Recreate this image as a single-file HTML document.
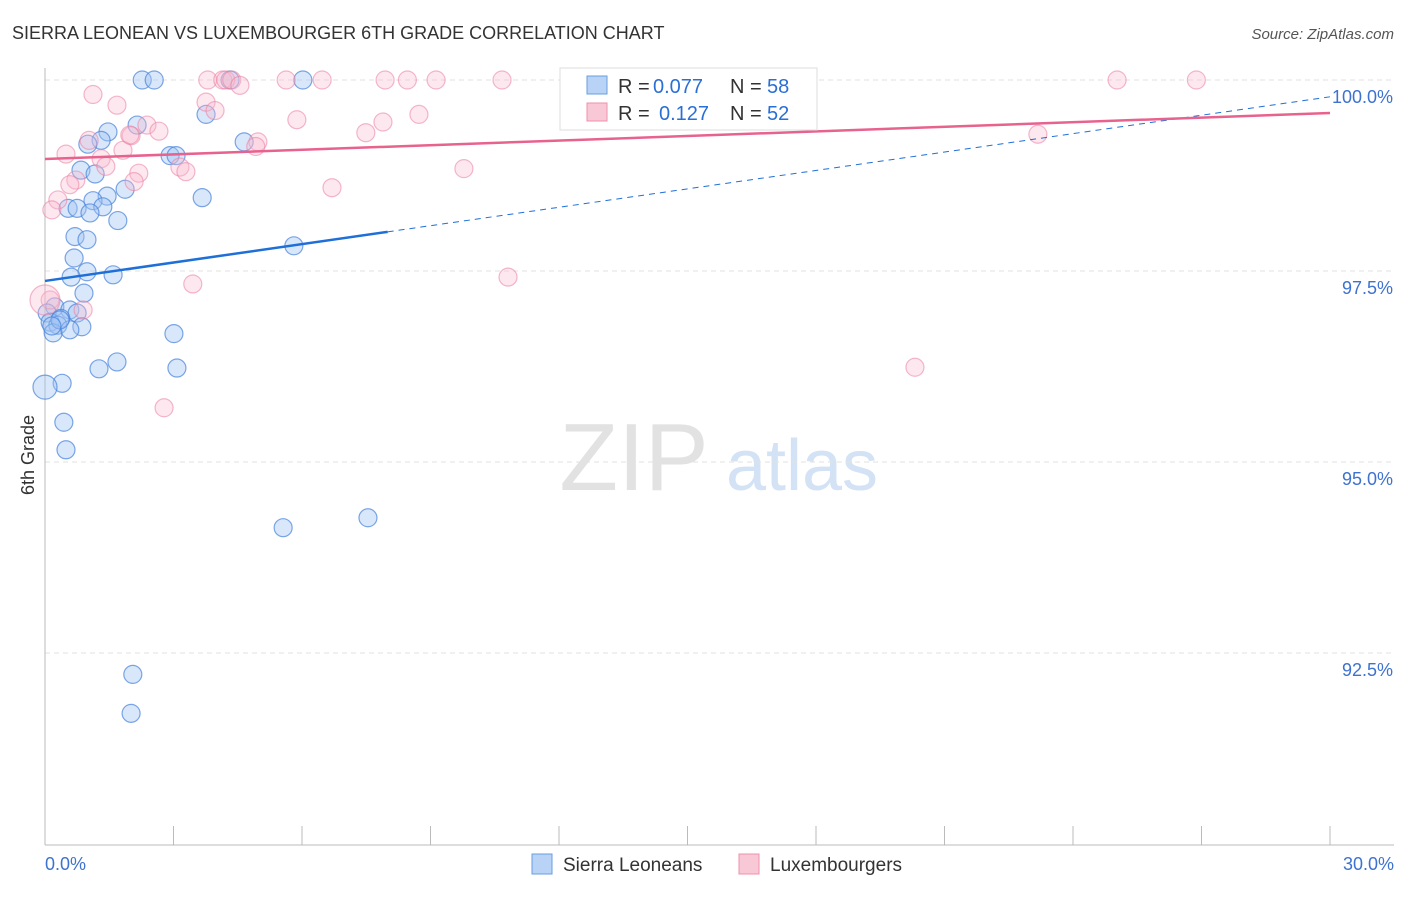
<!DOCTYPE html>
<html><head><meta charset="utf-8"><style>
body{margin:0;background:#fff;font-family:"Liberation Sans",sans-serif}
svg text{font-family:"Liberation Sans",sans-serif}
</style></head><body>
<svg id="c" width="1406" height="892">
<text x="12" y="39" font-size="18" fill="#333">SIERRA LEONEAN VS LUXEMBOURGER 6TH GRADE CORRELATION CHART</text>
<text x="1394" y="39" font-size="15" fill="#555" font-style="italic" text-anchor="end">Source: ZipAtlas.com</text>
<text x="34" y="455" font-size="18" fill="#333" transform="rotate(-90 34 455)" text-anchor="middle">6th Grade</text>
<g><text x="634" y="490" font-size="96" fill="#e2e2e2" font-family="Liberation Serif" text-anchor="middle">ZIP</text><text x="802" y="490" font-size="72" fill="#d3e2f5" text-anchor="middle">atlas</text></g>
<g id="grid"></g><g id="axes"></g><g id="pts"></g><g id="lines"></g>
<g>
<rect x="560" y="68" width="257" height="62" fill="#fff" stroke="#ddd"/>
<rect x="587" y="76" width="20" height="18" fill="#b8d3f5" stroke="#6a9ee0"/>
<text x="618" y="93" font-size="20" fill="#333">R =</text><text x="653" y="93" font-size="20" fill="#2a6fd6">0.077</text>
<text x="730" y="93" font-size="20" fill="#333">N =</text><text x="767" y="93" font-size="20" fill="#2a6fd6">58</text>
<rect x="587" y="103" width="20" height="18" fill="#f9c8d6" stroke="#ee90ac"/>
<text x="618" y="120" font-size="20" fill="#333">R =</text><text x="659" y="120" font-size="20" fill="#2a6fd6">0.127</text>
<text x="730" y="120" font-size="20" fill="#333">N =</text><text x="767" y="120" font-size="20" fill="#2a6fd6">52</text>
</g>
<g>
<rect x="532" y="854" width="20" height="20" fill="#b8d3f5" stroke="#6a9ee0"/>
<text x="563" y="871" font-size="19" fill="#333">Sierra Leoneans</text>
<rect x="739" y="854" width="20" height="20" fill="#f9c8d6" stroke="#ee90ac"/>
<text x="770" y="871" font-size="19" fill="#333">Luxembourgers</text>
</g>
</svg>
<script>
const yTicks=[92.5,95,97.5,100];
const yTickLabels=["92.5%","95.0%","97.5%","100.0%"];
const xTickVals=[0,3,6,9,12,15,18,21,24,27,30];
const blueX=[2.27,2.55,4.32,6.02,3.76,2.15,1.47,1.31,1.0,4.65,2.92,3.06,0.84,1.17,1.87,1.45,1.12,0.54,0.75,1.35,1.05,1.7,3.67,0.7,0.98,5.81,0.68,0.98,1.59,0.61,0.91,0.23,0.58,0.75,0.05,0.37,0.12,0.3,0.86,0.19,0.58,3.01,1.68,1.26,3.08,0.4,0.0,0.44,0.49,5.56,7.54,2.05,2.01,0.35,0.16];
const blueY=[100,100,100,100,99.55,99.41,99.32,99.21,99.16,99.19,99.01,99.01,98.82,98.77,98.57,98.48,98.42,98.32,98.32,98.34,98.26,98.16,98.46,97.95,97.91,97.83,97.67,97.49,97.45,97.42,97.21,97.03,96.99,96.95,96.95,96.88,96.83,96.79,96.77,96.69,96.73,96.68,96.31,96.22,96.23,96.03,95.98,95.52,95.16,94.14,94.27,92.22,91.71,96.86,96.78];
const pinkX=[1.12,1.68,3.8,4.15,4.22,4.36,4.55,5.63,6.47,7.94,8.46,9.13,10.67,25.03,26.88,3.76,3.97,5.88,7.89,8.73,2.38,2.66,1.03,2.01,7.49,4.97,4.92,1.82,0.49,1.31,1.42,3.15,3.29,9.78,2.19,2.08,0.72,0.58,6.7,0.3,0.16,23.18,10.81,3.45,0.12,0.89,20.31,2.78,1.98,0.0];
const pinkY=[99.81,99.67,100,100,100,100,99.93,100,100,100,100,100,100,100,100,99.71,99.6,99.48,99.45,99.55,99.41,99.33,99.21,99.27,99.31,99.19,99.13,99.08,99.03,98.97,98.87,98.86,98.8,98.84,98.78,98.67,98.69,98.63,98.59,98.43,98.3,99.29,97.42,97.33,97.12,96.99,96.24,95.71,99.28,97.12];
const pinkR=[9,9,9,9,9,9,9,9,9,9,9,9,9,9,9,9,9,9,9,9,9,9,9,9,9,9,9,9,9,9,9,9,9,9,9,9,9,9,9,9,9,9,9,9,9,9,9,9,9,15];
const blueTrend=[97.37,99.78];
const pinkTrend=[98.966,99.568];
const ns="http://www.w3.org/2000/svg";
const X=v=>45+v/30*1285, Y=v=>844-(v-90)*76.4;
function mk(t,a,p){const e=document.createElementNS(ns,t);for(const k in a)e.setAttribute(k,a[k]);p.appendChild(e);return e;}
const grid=document.getElementById('grid'),axes=document.getElementById('axes'),pts=document.getElementById('pts'),lines=document.getElementById('lines');
yTicks.forEach((t,i)=>{
 const l=mk('line',{x1:45,x2:1394,y1:Y(t),y2:Y(t),stroke:'#e2e2e2','stroke-dasharray':'5,4'},grid);
 
 
 const tx=mk('text',{x:1393,y:Y(t)+23,'font-size':18,fill:'#3d72d0','text-anchor':'end'},axes);tx.textContent=yTickLabels[i];
 
 
});
const ax=mk('line',{x1:45,x2:45,y1:68,y2:845,stroke:'#bbb'},axes);


const bx=mk('line',{x1:45,x2:1394,y1:845,y2:845,stroke:'#bbb'},axes);


xTickVals.forEach(v=>{const t=mk('line',{x1:X(v),x2:X(v),y1:826,y2:845,stroke:'#bbb'},axes);
 
 });
[[0,"0.0%","start",45],[30,"30.0%","end",1394]].forEach(d=>{const t=mk('text',{x:d[3],y:870,'font-size':18,fill:'#3d72d0','text-anchor':d[2]},axes);t.textContent=d[1];
 
 });
blueX.forEach((v,i)=>{const c=mk('circle',{cx:X(v),cy:Y(blueY[i]),r:(v===0?12:9),fill:'rgba(160,196,242,0.4)',stroke:'rgba(70,130,220,0.7)','stroke-width':1.2},pts);
 
 });
pinkX.forEach((v,i)=>{const c=mk('circle',{cx:X(v),cy:Y(pinkY[i]),r:pinkR[i],fill:'rgba(248,185,205,0.33)',stroke:'rgba(235,125,160,0.55)','stroke-width':1.2},pts);
 
 });
const by=x=>blueTrend[0]+(blueTrend[1]-blueTrend[0])*x/30;
let l1=mk('line',{x1:X(0),y1:Y(by(0)),x2:X(8),y2:Y(by(8)),stroke:'#1f6fd8','stroke-width':2.5},lines);


let l2=mk('line',{x1:X(8),y1:Y(by(8)),x2:X(30),y2:Y(by(30)),stroke:'#1f6fd8','stroke-width':1,'stroke-dasharray':'6,5'},lines);


let l3=mk('line',{x1:X(0),y1:Y(pinkTrend[0]),x2:X(30),y2:Y(pinkTrend[1]),stroke:'#e8628e','stroke-width':2.5},lines);


</script>
</body></html>
